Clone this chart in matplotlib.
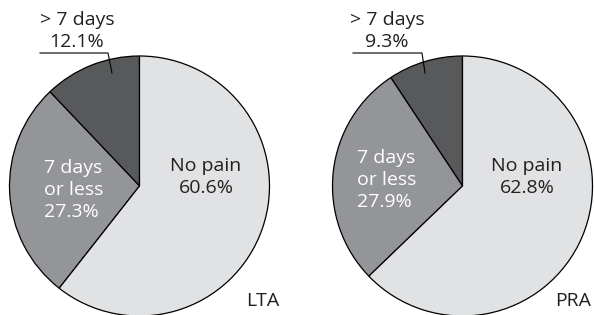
import matplotlib.pyplot as plt

# pain duration shares (%), order: > 7 days, 7 days or less, no pain
groups = ['LTA', 'PRA']
long_pain = [12.1, 9.3]
short_pain = [27.3, 27.9]
no_pain = [60.6, 62.8]

colors = ['#58595b', '#939598', '#e1e2e4']

plt.rcParams['font.family'] = ['Open Sans', 'DejaVu Sans']

fig = plt.figure(figsize=(5.94, 3.15), dpi=100)
ax = fig.add_axes([0, 0, 1, 1])

H = 315
centers = [(139.5, H - 186), (462.5, H - 186)]
R = 130
# text positions (pixels, y from top)
nopain_xy = [(206, 177), (527, 177)]
short_xy = [(44, 190), (357, 180)]
head_xy = [(77, 31), (387, 31)]
line_pts = [((40, 53), (108, 53), (112, 73)), ((353, 53), (422, 53), (425, 73))]
name_xy = [(279, 301), (591, 301)]

fs = 14
for i, g in enumerate(groups):
    vals = [long_pain[i], short_pain[i], no_pain[i]]
    ax.pie(vals, colors=colors, startangle=90, counterclock=True,
           center=centers[i], radius=R, frame=True,
           wedgeprops=dict(edgecolor='black', linewidth=0.9))
    x, y = nopain_xy[i]
    ax.text(x, H - y, 'No pain\n%.1f%%' % no_pain[i], ha='center', va='center',
            fontsize=fs, color='#231f20', linespacing=1.28)
    x, y = short_xy[i]
    ax.text(x, H - y, '7 days\nor less\n%.1f%%' % short_pain[i], ha='left',
            va='center', fontsize=fs, color='white', linespacing=1.28)
    x, y = head_xy[i]
    ax.text(x, H - y, '> 7 days\n%.1f%%' % long_pain[i], ha='center',
            va='center', fontsize=fs, color='#231f20', linespacing=1.28)
    p = line_pts[i]
    ax.plot([q[0] for q in p], [H - q[1] for q in p], color='black', lw=0.8)
    x, y = name_xy[i]
    ax.text(x, H - y, g, ha='right', va='center', fontsize=fs, color='#231f20')

ax.set_xlim(0, 594)
ax.set_ylim(0, H)
ax.axis('off')

fig.savefig('out.png', dpi=100)
